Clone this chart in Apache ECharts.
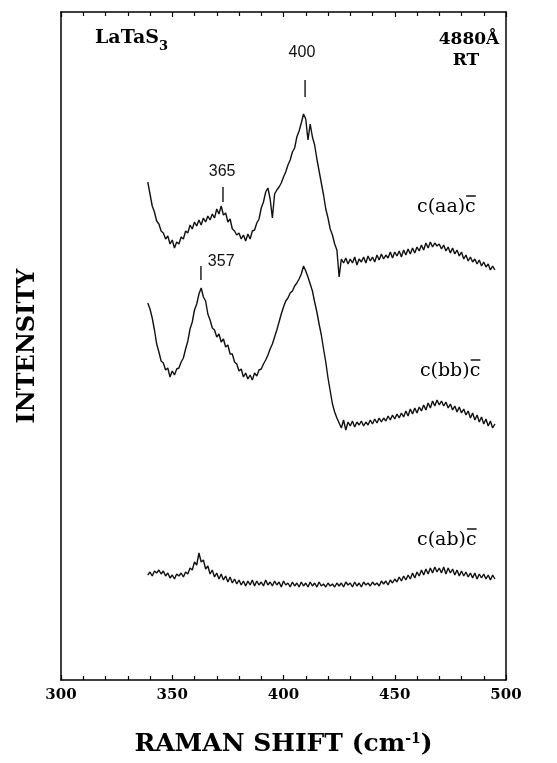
<!DOCTYPE html>
<html>
<head>
<meta charset="utf-8">
<script src="https://cdn.jsdelivr.net/npm/echarts@6.0.0/dist/echarts.min.js"></script>
<style>
  html, body { margin: 0; padding: 0; background: #fff; }
  #main { width: 557px; height: 763px; }
</style>
</head>
<body>
<div id="main"></div>
<script>
// Raman shift (cm-1), one reading per wavenumber along the traces
var shift = [
  339, 340, 341, 342, 343, 344, 345, 346, 347, 348,
  349, 350, 351, 352, 353, 354, 355, 356, 357, 358,
  359, 360, 361, 362, 363, 364, 365, 366, 367, 368,
  369, 370, 371, 372, 373, 374, 375, 376, 377, 378,
  379, 380, 381, 382, 383, 384, 385, 386, 387, 388,
  389, 390, 391, 392, 393, 394, 395, 396, 397, 398,
  399, 400, 401, 402, 403, 404, 405, 406, 407, 408,
  409, 410, 411, 412, 413, 414, 415, 416, 417, 418,
  419, 420, 421, 422, 423, 424, 425, 426, 427, 428,
  429, 430, 431, 432, 433, 434, 435, 436, 437, 438,
  439, 440, 441, 442, 443, 444, 445, 446, 447, 448,
  449, 450, 451, 452, 453, 454, 455, 456, 457, 458,
  459, 460, 461, 462, 463, 464, 465, 466, 467, 468,
  469, 470, 471, 472, 473, 474, 475, 476, 477, 478,
  479, 480, 481, 482, 483, 484, 485, 486, 487, 488,
  489, 490, 491, 492, 493, 494, 495
]

// intensity, arbitrary units (traces are offset vertically as in the figure)
var aaIntensity = [
  498, 486, 474, 468, 459, 456, 449, 447, 441, 444,
  436, 440, 432, 438, 436, 443, 441, 449, 447, 455,
  451, 458, 454, 460, 455, 462, 458, 464, 460, 466,
  462, 471, 466, 474, 465, 467, 458, 461, 451, 449,
  445, 447, 441, 445, 439, 446, 441, 449, 450, 457,
  461, 472, 478, 488, 492, 481, 462, 486, 490, 493,
  497, 503, 508, 515, 520, 528, 532, 543, 549, 557,
  566, 561, 540, 556, 543, 535, 521, 509, 497, 485,
  471, 462, 451, 445, 436, 430, 403, 421, 417, 422,
  416, 421, 417, 423, 415, 421, 418, 423, 417, 424,
  419, 423, 418, 425, 420, 426, 421, 425, 422, 428,
  422, 428, 424, 429, 423, 430, 425, 431, 426, 432,
  427, 433, 429, 435, 430, 437, 432, 438, 433, 437,
  434, 436, 431, 435, 429, 433, 427, 432, 426, 430,
  424, 428, 421, 425, 419, 423, 418, 421, 416, 420,
  414, 418, 413, 416, 410, 414, 410
]
var bbIntensity = [
  377, 371, 362, 350, 336, 328, 319, 317, 310, 312,
  303, 309, 305, 311, 312, 318, 322, 331, 339, 351,
  358, 370, 376, 386, 392, 383, 379, 366, 360, 352,
  350, 343, 346, 338, 341, 333, 335, 326, 326, 318,
  316, 309, 311, 303, 307, 301, 305, 300, 307, 304,
  310, 311, 316, 320, 325, 331, 336, 343, 350, 358,
  366, 373, 379, 382, 387, 389, 394, 397, 401, 406,
  414, 409, 403, 396, 389, 378, 368, 356, 345, 331,
  318, 302, 289, 276, 268, 262, 257, 252, 260, 250,
  258, 254, 259, 253, 258, 255, 259, 254, 258, 255,
  260, 256, 261, 257, 262, 258, 262, 259, 264, 260,
  265, 261, 266, 262, 267, 263, 269, 264, 271, 266,
  272, 267, 273, 269, 275, 270, 277, 272, 279, 274,
  280, 275, 279, 274, 278, 272, 276, 270, 274, 268,
  273, 267, 271, 265, 269, 262, 267, 260, 265, 258,
  263, 256, 261, 254, 259, 252, 256
]
var abIntensity = [
  105, 108, 104, 109, 107, 110, 106, 109, 104, 107,
  102, 105, 101, 106, 104, 107, 103, 108, 106, 112,
  110, 118, 115, 127, 118, 120, 111, 114, 106, 110,
  103, 107, 101, 106, 100, 104, 98, 103, 97, 101,
  96, 100, 95, 99, 94, 99, 95, 100, 94, 99,
  95, 98, 94, 100, 95, 98, 94, 99, 95, 98,
  93, 99, 95, 97, 93, 98, 94, 97, 93, 98,
  94, 97, 93, 98, 94, 97, 93, 98, 94, 96,
  93, 97, 94, 96, 93, 97, 94, 97, 93, 98,
  95, 97, 93, 98, 94, 97, 93, 98, 95, 97,
  94, 98, 95, 97, 94, 99, 96, 99, 95, 100,
  97, 101, 98, 103, 99, 104, 100, 105, 101, 107,
  102, 108, 104, 110, 105, 111, 106, 112, 107, 113,
  108, 112, 107, 113, 106, 112, 107, 111, 105, 110,
  104, 109, 104, 108, 103, 107, 102, 107, 101, 106,
  102, 106, 101, 105, 100, 105, 101
]

// peak markers: [label, shift, tick bottom, tick top, label shift, label intensity, align]
var peakMarks = [
  ['400', 409.7, 583, 600, 408.3, 627, 'center'],
  ['365', 372.8, 478, 493, 372.4, 508, 'center'],
  ['357', 362.9, 400, 414, 366.0, 418, 'left']
]
// polarization labels: [geometry, shift at left edge, intensity at middle]
var traceNames = [
  ['c(aa)', 460.0, 473],
  ['c(bb)', 461.3, 309],
  ['c(ab)', 460.0, 140]
]

var serif = '"DejaVu Serif", "Liberation Serif", serif'
var chart = echarts.init(document.getElementById('main'), null, { renderer: 'canvas' })

function toXY(arr) {
  return shift.map(function (x, i) { return [x, arr[i]] })
}

function lineSeries(name, arr) {
  return {
    name: name,
    type: 'line',
    data: toXY(arr),
    showSymbol: false,
    symbol: 'none',
    animation: false,
    lineStyle: { color: '#111', width: 1.4 }
  }
}

// both x axes share the frame style; ticks point into the plot
var xBase = {
  type: 'value',
  min: 300,
  max: 500,
  interval: 50,
  axisLine: { show: true, onZero: false, lineStyle: { color: '#000', width: 1.5 } },
  axisTick: { show: true, inside: true, length: 5, lineStyle: { color: '#000', width: 1.2 } },
  minorTick: { show: true, splitNumber: 5, length: 4, lineStyle: { color: '#000', width: 1.2 } },
  splitLine: { show: false },
  minorSplitLine: { show: false }
}

var option = {
  backgroundColor: '#fff',
  animation: false,
  grid: { left: 61, right: 51, top: 12, bottom: 83, outerBoundsMode: 'none' },
  xAxis: [
    Object.assign({}, xBase, {
      position: 'bottom',
      axisLabel: { show: true, margin: 8, color: '#000', fontFamily: serif, fontWeight: 'bold', fontSize: 15 },
      name: 'RAMAN SHIFT (cm{sup|-1})',
      nameLocation: 'middle',
      nameGap: 52,
      nameMoveOverlap: false,
      nameTextStyle: {
        color: '#000', fontFamily: serif, fontWeight: 'bold', fontSize: 25, verticalAlign: 'top',
        rich: {
          sup: { fontFamily: serif, fontWeight: 'bold', fontSize: 14, verticalAlign: 'top', color: '#000' }
        }
      }
    }),
    Object.assign({}, xBase, {
      position: 'top',
      axisLabel: { show: false }
    })
  ],
  yAxis: [
    {
      type: 'value', min: 0, max: 668, position: 'left',
      axisLine: { show: true, onZero: false, lineStyle: { color: '#000', width: 1.5 } },
      axisTick: { show: false }, axisLabel: { show: false }, splitLine: { show: false },
      name: 'INTENSITY',
      nameLocation: 'middle',
      nameRotate: 90,
      nameGap: 21,
      nameMoveOverlap: false,
      nameTextStyle: { color: '#000', fontFamily: serif, fontWeight: 'bold', fontSize: 24 }
    },
    {
      type: 'value', min: 0, max: 668, position: 'right',
      axisLine: { show: true, onZero: false, lineStyle: { color: '#000', width: 1.5 } },
      axisTick: { show: false }, axisLabel: { show: false }, splitLine: { show: false }
    }
  ],
  series: [
    lineSeries('c(aa)c', aaIntensity),
    lineSeries('c(bb)c', bbIntensity),
    lineSeries('c(ab)c', abIntensity)
  ]
}
chart.setOption(option)

// text bits: peak markers, trace names with the bar over the last c, sample info
var ctx = document.createElement('canvas').getContext('2d')
function textWidth(s, font) {
  ctx.font = font
  return ctx.measureText(s).width
}
function px(x, y) {
  return chart.convertToPixel({ xAxisIndex: 0, yAxisIndex: 0 }, [x, y])
}

function drawNotes() {
  var g = []
  peakMarks.forEach(function (m) {
    var a = px(m[1], m[2])
    var b = px(m[1], m[3])
    g.push({ type: 'line', shape: { x1: a[0], y1: a[1], x2: b[0], y2: b[1] }, style: { stroke: '#000', lineWidth: 1.3 } })
    var t = px(m[4], m[5])
    g.push({
      type: 'text', x: t[0], y: t[1],
      style: { text: m[0], fontFamily: '"Liberation Sans", sans-serif', fontSize: 16, fill: '#111', align: m[6], verticalAlign: 'middle' }
    })
  })

  var nameFont = '19px "DejaVu Serif"'
  traceNames.forEach(function (n) {
    var p = px(n[1], n[2])
    var w0 = textWidth(n[0], nameFont)
    var w1 = textWidth(n[0] + 'c', nameFont)
    g.push({
      type: 'text', x: p[0], y: p[1],
      style: { text: n[0] + 'c', fontFamily: serif, fontSize: 19, fill: '#000', align: 'left', verticalAlign: 'middle' }
    })
    g.push({
      type: 'line',
      shape: { x1: p[0] + w0 + 1, y1: p[1] - 11, x2: p[0] + w1, y2: p[1] - 11 },
      style: { stroke: '#000', lineWidth: 1.4 }
    })
  })

  g.push({
    type: 'text', x: 95, y: 41,
    style: {
      text: '{a|LaTaS}{s|3}',
      rich: {
        a: { fontFamily: serif, fontWeight: 'bold', fontSize: 19, fill: '#000', verticalAlign: 'top', lineHeight: 25 },
        s: { fontFamily: serif, fontWeight: 'bold', fontSize: 13, fill: '#000', verticalAlign: 'bottom', lineHeight: 25 }
      },
      align: 'left', verticalAlign: 'middle'
    }
  })
  g.push({
    type: 'text', x: 469, y: 40,
    style: { text: '4880Å', fontFamily: serif, fontWeight: 'bold', fontSize: 17, fill: '#000', align: 'center', verticalAlign: 'middle' }
  })
  g.push({
    type: 'text', x: 466, y: 61,
    style: { text: 'RT', fontFamily: serif, fontWeight: 'bold', fontSize: 17, fill: '#000', align: 'center', verticalAlign: 'middle' }
  })

  chart.setOption({ graphic: g })
}
drawNotes()
</script>
</body>
</html>
